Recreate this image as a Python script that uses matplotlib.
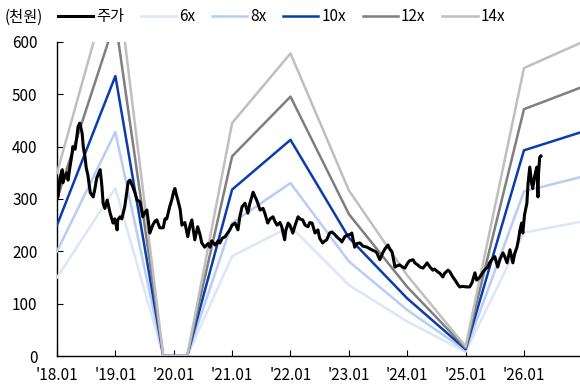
import numpy as np
import matplotlib.pyplot as plt

plt.rcParams['font.family'] = ['Noto Sans CJK KR', 'DejaVu Sans']

# price (천원)
price_t = [2018.00, 2018.02, 2018.05, 2018.09, 2018.10, 2018.14, 2018.17, 2018.19, 2018.22, 2018.26,
           2018.27, 2018.31, 2018.34, 2018.36, 2018.39, 2018.43, 2018.45, 2018.48, 2018.50, 2018.53,
           2018.57, 2018.62, 2018.65, 2018.68, 2018.74, 2018.77, 2018.79, 2018.82, 2018.86, 2018.91,
           2018.96, 2018.99, 2019.03, 2019.04, 2019.08, 2019.11, 2019.16, 2019.22, 2019.25, 2019.30,
           2019.34, 2019.37, 2019.42, 2019.47, 2019.51, 2019.54, 2019.59, 2019.64, 2019.68, 2019.71,
           2019.76, 2019.82, 2019.85, 2019.88, 2019.93, 2019.97, 2020.00, 2020.02, 2020.04, 2020.07,
           2020.11, 2020.14, 2020.19, 2020.24, 2020.28, 2020.31, 2020.36, 2020.41, 2020.45, 2020.48,
           2020.53, 2020.59, 2020.62, 2020.65, 2020.71, 2020.76, 2020.79, 2020.83, 2020.88, 2020.93,
           2020.96, 2021.00, 2021.05, 2021.10, 2021.13, 2021.17, 2021.22, 2021.27, 2021.30, 2021.36,
           2021.39, 2021.42, 2021.48, 2021.53, 2021.56, 2021.61, 2021.65, 2021.70, 2021.73, 2021.77,
           2021.82, 2021.85, 2021.90, 2021.92, 2021.96, 2021.99, 2022.04, 2022.08, 2022.13, 2022.16,
           2022.21, 2022.25, 2022.30, 2022.33, 2022.37, 2022.42, 2022.47, 2022.50, 2022.55, 2022.59,
           2022.62, 2022.67, 2022.71, 2022.76, 2022.79, 2022.85, 2022.88, 2022.93, 2022.97, 2023.02,
           2023.05, 2023.10, 2023.14, 2023.19, 2023.24, 2023.31, 2023.36, 2023.39, 2023.45, 2023.48,
           2023.53, 2023.58, 2023.62, 2023.67, 2023.70, 2023.74, 2023.79, 2023.82, 2023.87, 2023.92,
           2023.96, 2024.01, 2024.04, 2024.10, 2024.13, 2024.18, 2024.22, 2024.27, 2024.30, 2024.34,
           2024.39, 2024.44, 2024.47, 2024.52, 2024.56, 2024.61, 2024.64, 2024.70, 2024.73, 2024.78,
           2024.82, 2024.87, 2024.90, 2024.95, 2025.02, 2025.07, 2025.11, 2025.16, 2025.19, 2025.24,
           2025.29, 2025.33, 2025.38, 2025.41, 2025.45, 2025.50, 2025.55, 2025.59, 2025.64, 2025.67,
           2025.71, 2025.76, 2025.81, 2025.84, 2025.88, 2025.91, 2025.93, 2025.96, 2025.98, 2026.01,
           2026.05, 2026.07, 2026.10, 2026.13, 2026.15, 2026.18, 2026.22, 2026.24, 2026.25, 2026.27,
           2026.29]
price = [300, 305, 340, 356, 331, 345, 350, 336, 360, 388,
         400, 395, 419, 438, 445, 426, 400, 380, 360, 345,
         312, 304, 320, 340, 356, 323, 292, 282, 298, 273,
         254, 262, 241, 260, 266, 262, 285, 333, 336, 323,
         310, 298, 295, 266, 275, 279, 235, 250, 258, 260,
         245, 245, 262, 262, 285, 300, 315, 320, 310, 298,
         280, 250, 255, 228, 250, 260, 222, 247, 232, 216,
         208, 215, 208, 220, 212, 220, 216, 225, 228, 236,
         241, 250, 254, 241, 265, 285, 292, 273, 290, 313,
         305, 298, 279, 282, 273, 254, 262, 266, 258, 250,
         255, 247, 222, 240, 254, 250, 235, 250, 266, 262,
         260, 250, 247, 255, 254, 235, 241, 225, 216, 220,
         222, 235, 237, 232, 228, 222, 218, 228, 231, 232,
         235, 208, 215, 216, 210, 208, 205, 203, 200, 197,
         184, 197, 205, 212, 205, 199, 170, 172, 174, 170,
         168, 178, 182, 184, 178, 174, 170, 168, 172, 178,
         170, 164, 166, 161, 158, 151, 158, 164, 161, 151,
         145, 136, 132, 133, 132, 132, 140, 159, 145, 150,
         159, 165, 170, 178, 184, 190, 170, 185, 197, 190,
         178, 203, 178, 195, 208, 225, 240, 254, 235, 270,
         292, 330, 361, 331, 320, 342, 361, 304, 350, 380,
         382]

# EPS-like base for the PER bands (원 -> 천원 scale)
band_t = [2018.0, 2019.0, 2019.82, 2020.23, 2021.0, 2022.0, 2023.0, 2024.0, 2025.0, 2026.0, 2026.96]
eps = [25.0, 53.5, 0.0, 0.0, 31.8, 41.3, 22.6, 11.0, 1.3, 39.3, 42.7]
multiples = [6, 8, 10, 12, 14]
band_colors = ['#dbe6f7', '#b7cdf5', '#0a3cb0', '#7f7f7f', '#bfbfbf']

years = list(range(2018, 2027))
year_labels = ["'18.01", "'19.01", "'20.01", "'21.01", "'22.01", "'23.01", "'24.01", "'25.01", "'26.01"]

fig = plt.figure(figsize=(5.8, 3.91), dpi=100)
ax = fig.add_axes([0.0983, 0.0895, 0.9017, 0.8031])

ax.plot(price_t, price, color='black', lw=2.2, label='주가', zorder=5)
for m, c in zip(multiples, band_colors):
    ax.plot(band_t, np.array(eps) * m, color=c, lw=1.8, label=f'{m}x', zorder=3)

ax.set_xlim(2018.0, 2026.96)
ax.set_ylim(0, 600)
ax.set_yticks(range(0, 601, 100))
ax.set_xticks(years)
ax.set_xticklabels(year_labels)
ax.tick_params(direction='in', length=4, labelsize=11, colors='black')
ax.tick_params(axis='y', pad=14)
ax.tick_params(axis='x', pad=8)
for s in ['top', 'right']:
    ax.spines[s].set_visible(False)
for s in ['left', 'bottom']:
    ax.spines[s].set_linewidth(1.0)

fig.text(0.008, 0.955, '(천원)', fontsize=11, va='center', ha='left')
ax.legend(loc='center left', bbox_to_anchor=(-0.01, 1.08), ncol=6, frameon=False,
          fontsize=11, handlelength=2.3, handletextpad=0.2, columnspacing=1.1,
          borderaxespad=0)

fig.savefig('out.png', dpi=100)
